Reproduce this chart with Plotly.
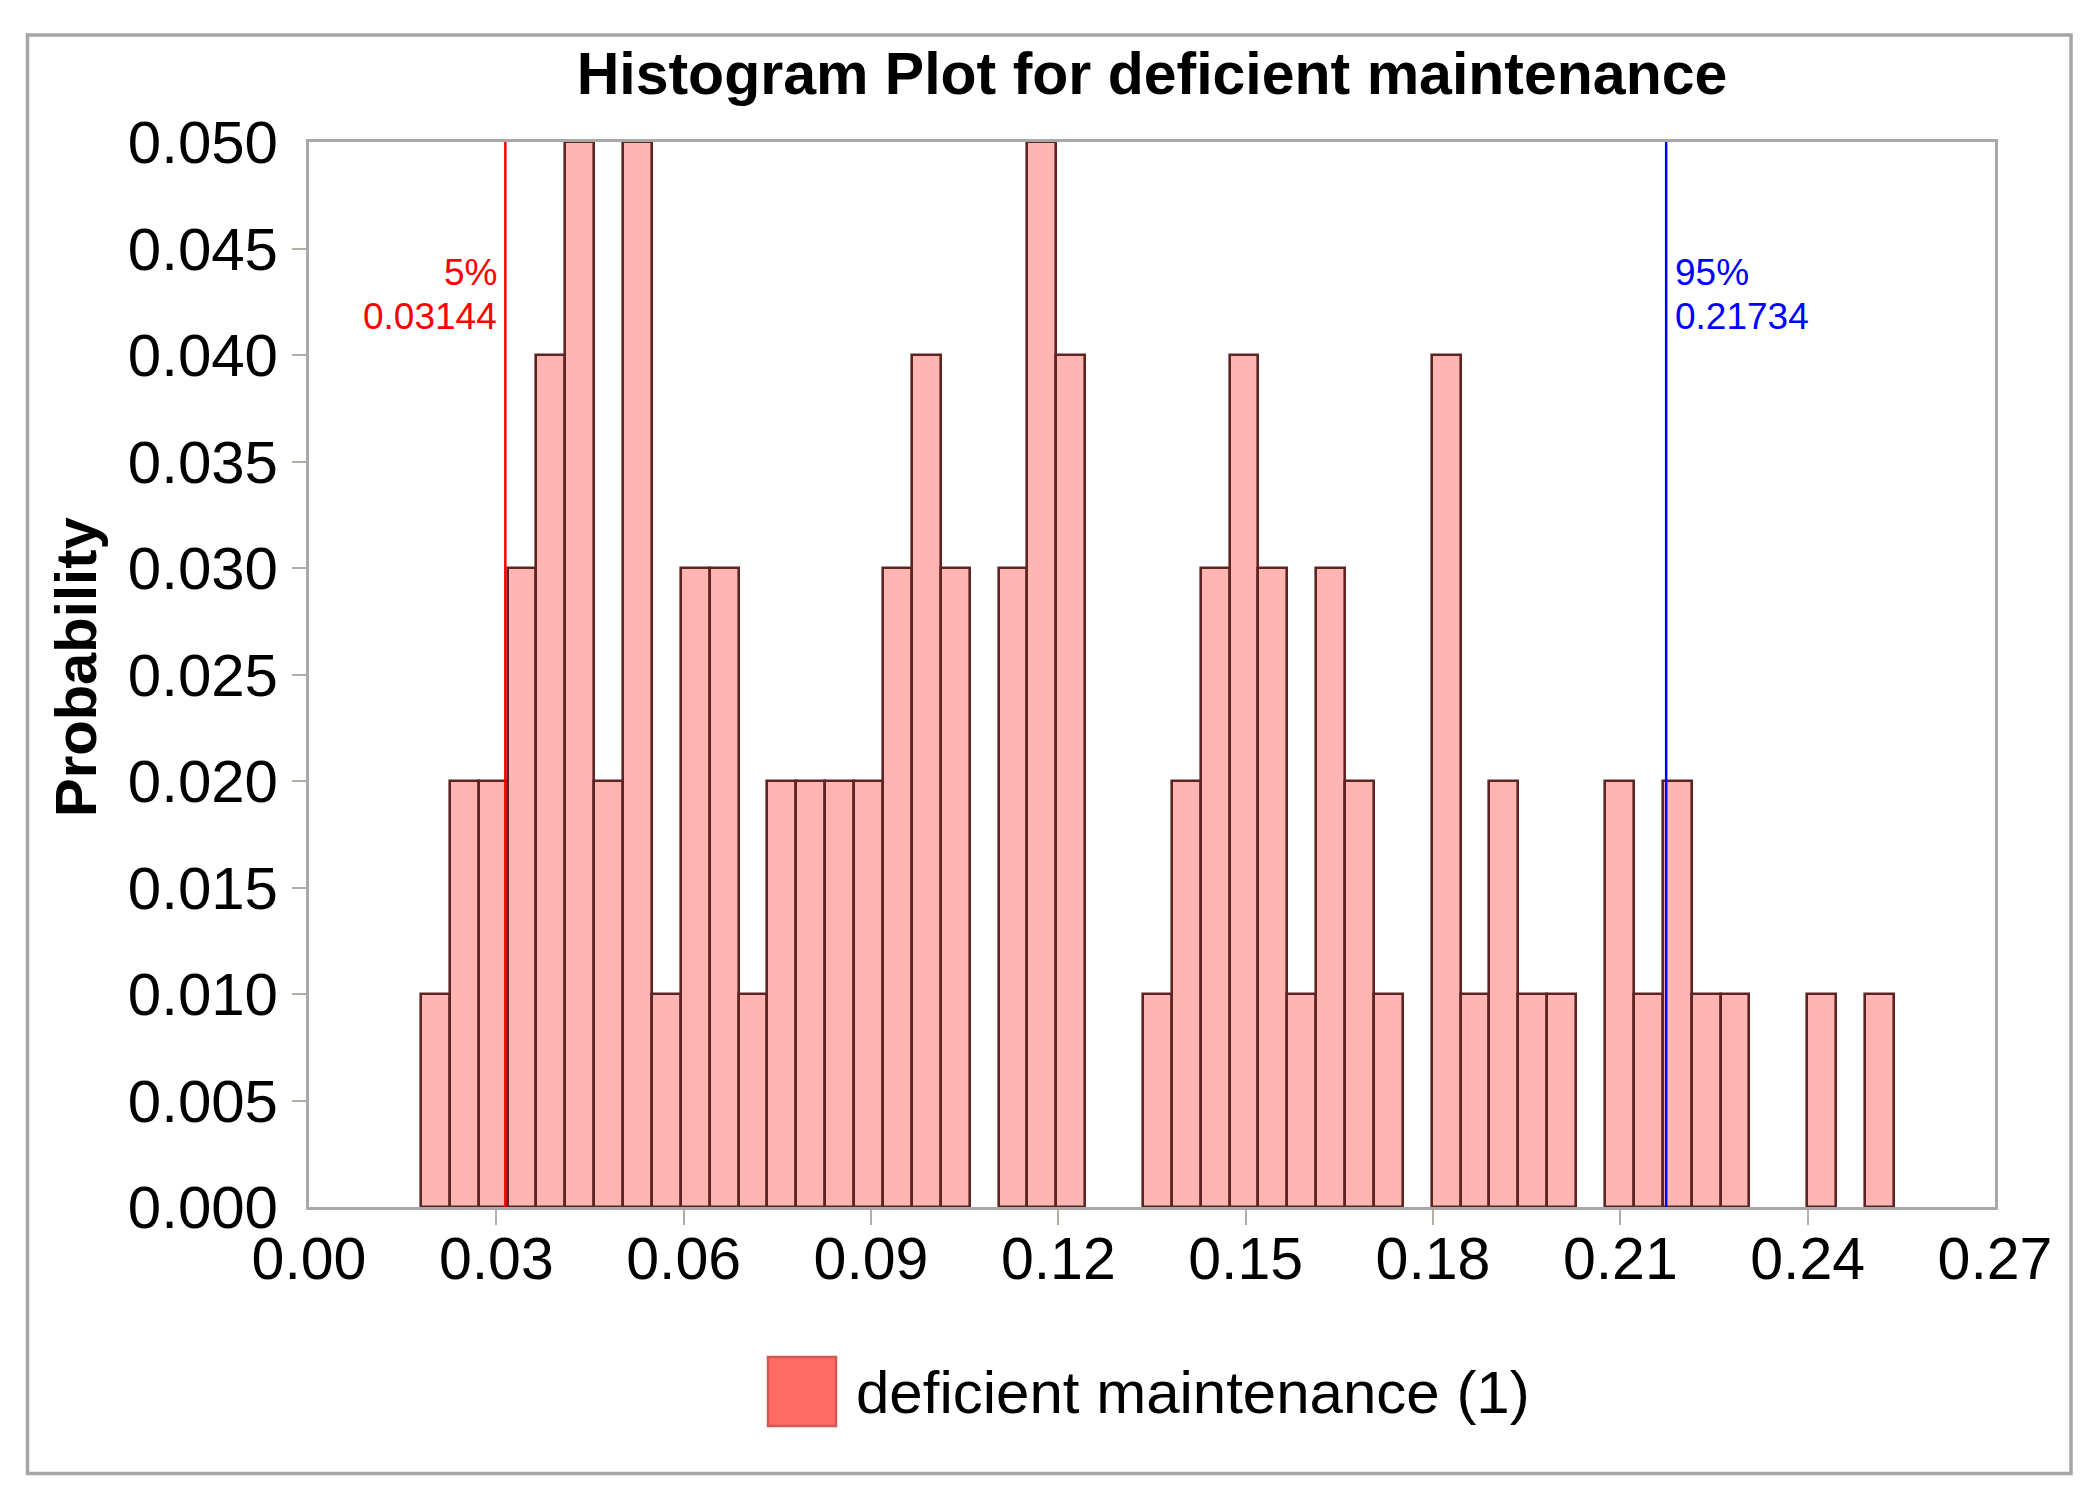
import plotly.graph_objects as go

# ---------------- data ----------------
bin_start = 0.01792
bin_width = 0.004625
probabilities = [0.01, 0.02, 0.02, 0.03, 0.04, 0.05, 0.02, 0.05, 0.01, 0.03,
                 0.03, 0.01, 0.02, 0.02, 0.02, 0.02, 0.03, 0.04, 0.03, 0.00,
                 0.03, 0.05, 0.04, 0.00, 0.00, 0.01, 0.02, 0.03, 0.04, 0.03,
                 0.01, 0.03, 0.02, 0.01, 0.00, 0.04, 0.01, 0.02, 0.01, 0.01,
                 0.00, 0.02, 0.01, 0.02, 0.01, 0.01, 0.00, 0.00, 0.01, 0.00,
                 0.01]
p5_label, p5_value = "5%", 0.03144
p95_label, p95_value = "95%", 0.21734
series_name = "deficient maintenance (1)"
title_text = "Histogram Plot for deficient maintenance"
x_ticks = [0.00, 0.03, 0.06, 0.09, 0.12, 0.15, 0.18, 0.21, 0.24, 0.27]
y_ticks = [0.000, 0.005, 0.010, 0.015, 0.020, 0.025, 0.030, 0.035, 0.040, 0.045, 0.050]

# ---------------- figure ----------------
OFF = 8  # default page body margin
W, H = 2095 - OFF, 1497 - OFF
L, R, T, B = 309 - OFF, 100, 142 - OFF, 290
pw, ph = W - L - R, H - T - B

def px(xpix):  # page pixel -> paper x
    return (xpix - OFF - L) / pw

def py(ypix):  # page pixel -> paper y
    return (H - B - (ypix - OFF)) / ph

FONT = "Arial, Liberation Sans, sans-serif"

centers = [bin_start + (i + 0.5) * bin_width for i in range(len(probabilities))]
heights = [p if p > 0 else None for p in probabilities]

fig = go.Figure()
fig.add_trace(go.Bar(
    x=centers, y=heights, width=bin_width,
    marker=dict(color="#ffb5b2", line=dict(color="#5e2424", width=2.6)),
    name=series_name, showlegend=False,
))

shapes = []
shapes.append(dict(type="line", xref="x", yref="paper", x0=p5_value, x1=p5_value,
                   y0=0, y1=1, line=dict(color="#ff0000", width=2.5), layer="above"))
shapes.append(dict(type="line", xref="x", yref="paper", x0=p95_value, x1=p95_value,
                   y0=0, y1=1, line=dict(color="#0000ff", width=2.5), layer="above"))
shapes.append(dict(type="rect", xref="paper", yref="paper",
                   x0=px(27.5), x1=px(2071), y0=py(1473.5), y1=py(35),
                   line=dict(color="#a6a6a6", width=3.5), fillcolor="rgba(0,0,0,0)"))
shapes.append(dict(type="rect", xref="paper", yref="paper",
                   x0=px(768), x1=px(836), y0=py(1426), y1=py(1357),
                   line=dict(color="#d55753", width=2.5), fillcolor="#ff6a64"))

annotations = [
    dict(text=p5_label, x=p5_value, xref="x", xanchor="right", xshift=-6,
         y=py(272), yref="paper", yanchor="middle", showarrow=False,
         font=dict(family=FONT, size=37, color="#ff0000")),
    dict(text=f"{p5_value:.5f}", x=p5_value, xref="x", xanchor="right", xshift=-6,
         y=py(316), yref="paper", yanchor="middle", showarrow=False,
         font=dict(family=FONT, size=37, color="#ff0000")),
    dict(text=p95_label, x=p95_value, xref="x", xanchor="left", xshift=7,
         y=py(272), yref="paper", yanchor="middle", showarrow=False,
         font=dict(family=FONT, size=37, color="#0000ff")),
    dict(text=f"{p95_value:.5f}", x=p95_value, xref="x", xanchor="left", xshift=7,
         y=py(316), yref="paper", yanchor="middle", showarrow=False,
         font=dict(family=FONT, size=37, color="#0000ff")),
    dict(text="<b>Probability</b>", x=px(75), xref="paper", xanchor="center",
         y=py(667), yref="paper", yanchor="middle", textangle=-90, showarrow=False,
         font=dict(family=FONT, size=58, color="#000000")),
    dict(text=series_name, x=px(854), xref="paper", xanchor="left",
         y=py(1392), yref="paper", yanchor="middle", showarrow=False,
         font=dict(family=FONT, size=60, color="#000000")),
]

fig.update_layout(
    width=W, height=H,
    margin=dict(l=L, r=R, t=T, b=B, pad=0),
    paper_bgcolor="white", plot_bgcolor="white",
    bargap=0,
    showlegend=False,
    title=dict(text=f"<b>{title_text}</b>", x=px(1152), xref="paper", xanchor="center",
               y=1 - (73 - OFF) / H, yref="container", yanchor="middle",
               font=dict(family=FONT, size=59, color="#000000")),
    shapes=shapes,
    annotations=annotations,
    xaxis=dict(
        range=[x_ticks[0], x_ticks[-1]],
        tickvals=x_ticks, ticktext=[f"{v:.2f}" for v in x_ticks],
        ticks="", showgrid=False, zeroline=False,
        showline=True, linecolor="#a8a8a8", linewidth=3, mirror=True,
        tickfont=dict(family=FONT, size=59, color="#000000"),
        minor=dict(tickvals=x_ticks[1:-1], ticks="outside", ticklen=15,
                   tickcolor="#b5ada2", tickwidth=2, showgrid=False),
        ticklabelstandoff=-2,
    ),
    yaxis=dict(
        range=[y_ticks[0], y_ticks[-1]],
        tickvals=y_ticks, ticktext=[f"{v:.3f}" for v in y_ticks],
        ticks="", showgrid=False, zeroline=False,
        showline=True, linecolor="#a8a8a8", linewidth=3, mirror=True,
        tickfont=dict(family=FONT, size=60, color="#000000"),
        minor=dict(tickvals=y_ticks[1:-1], ticks="outside", ticklen=14,
                   tickcolor="#b5ada2", tickwidth=2, showgrid=False),
        ticklabelstandoff=16,
    ),
)

fig.write_html("out.html")
